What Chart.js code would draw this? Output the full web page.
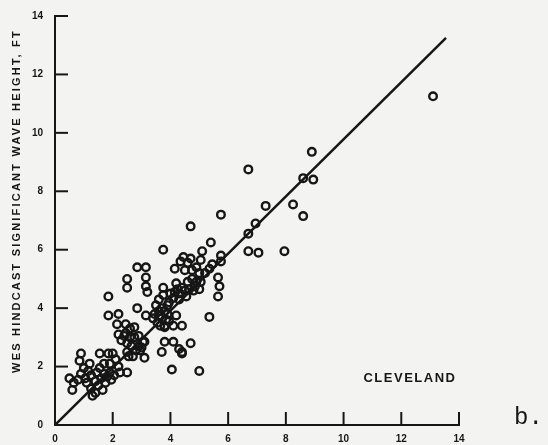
<!DOCTYPE html>
<html>
<head>
<meta charset="utf-8">
<script src="https://cdn.jsdelivr.net/npm/chart.js@4.4.1/dist/chart.umd.min.js"></script>
<style>
  html, body { margin: 0; padding: 0; background: #f3f3f1; }
  #wrap { width: 548px; height: 445px; position: relative; }
</style>
</head>
<body>
<div id="wrap"><canvas id="waveChart" width="548" height="445"></canvas></div>
<script>
const hindcastPoints = [
    // low cluster
    [0.5,1.6],[0.65,1.45],[0.6,1.2],[0.8,1.55],[0.85,2.2],[0.9,2.45],[0.9,1.75],[1.0,1.95],
    [1.05,1.6],[1.15,1.85],[1.2,2.1],[1.25,1.7],[1.25,1.25],[1.3,1.0],[1.4,1.1],[1.45,1.8],
    [1.5,1.35],[1.55,2.45],[1.6,1.6],[1.65,1.2],[1.7,1.75],[1.75,1.45],[1.85,2.45],[1.9,2.1],
    [1.9,1.8],[1.95,1.55],[2.05,1.7],[2.1,2.25],[2.2,2.0],[2.25,1.8],[2.5,1.8],[1.4,1.5],
    [1.8,1.65],[1.55,1.95],[1.7,2.1],[2.0,2.45],[1.1,1.45],
    // 2-3 ft band
    [1.85,4.4],[1.85,3.75],[2.2,3.8],[2.15,3.45],[2.2,3.1],[2.45,3.45],[2.45,3.15],[2.5,2.8],
    [2.5,2.5],[2.6,3.3],[2.6,3.0],[2.65,2.7],[2.7,2.35],[2.75,3.0],[2.75,3.35],[2.8,2.55],
    [2.9,2.7],[2.85,4.0],[2.95,2.55],[3.05,2.85],[3.1,2.3],[3.15,3.75],[3.0,2.65],[2.55,2.35],
    [2.4,3.05],[2.9,3.05],[2.3,2.9],
    [2.5,5.0],[2.5,4.7],[2.85,5.4],[3.15,5.4],[3.15,5.05],[3.15,4.75],[3.2,4.55],
    // 3.5-4.5 ft cluster
    [3.45,3.8],[3.5,4.1],[3.55,3.5],[3.6,3.75],[3.65,3.4],[3.7,4.0],[3.7,3.65],[3.75,4.45],
    [3.75,4.7],[3.8,3.35],[3.8,3.9],[3.85,3.6],[3.9,3.8],[3.95,4.2],[4.0,4.5],[4.1,4.35],
    [4.15,4.55],[4.2,3.75],[3.6,4.3],[3.4,3.65],[3.9,4.1],[3.6,3.9],[3.95,3.55],[4.3,4.3],
    [4.25,4.65],
    // below the line
    [3.8,3.4],[4.1,3.4],[4.4,3.4],[3.8,2.85],[4.1,2.85],[3.7,2.5],[4.3,2.6],[4.4,2.5],
    [4.7,2.8],[4.05,1.9],[5.0,1.85],[3.1,2.85],[4.4,2.45],[5.35,3.7],
    // 4.5-6 ft
    [4.15,5.35],[4.35,5.6],[4.45,5.75],[4.7,5.7],[4.75,5.3],[4.75,5.0],[4.6,4.9],[4.5,4.6],
    [4.4,4.7],[4.3,4.5],[4.65,4.65],[4.8,4.6],[4.9,4.9],[5.0,4.65],[5.05,5.65],[5.1,5.95],
    [5.2,5.2],[5.35,5.35],[5.4,6.25],[5.45,5.5],[5.65,5.05],[5.7,4.75],[5.65,4.4],[5.75,5.8],
    [5.75,5.6],[4.7,6.8],[3.75,6.0],[5.75,7.2],[4.9,5.4],[4.5,5.3],[4.2,4.85],[5.0,5.2],
    [4.55,4.4],[4.85,4.75],[5.05,4.9],[4.6,5.55],
    // upper range
    [6.7,8.75],[6.7,6.55],[6.95,6.9],[6.7,5.95],[7.05,5.9],[7.3,7.5],[7.95,5.95],[8.25,7.55],
    [8.6,7.15],[8.6,8.45],[8.95,8.4],[8.9,9.35],[13.1,11.25]
];

// line of perfect agreement as drawn in the figure
const agreementLine = [[0, 0], [13.55, 13.25]];

const axisTicks = [0, 2, 4, 6, 8, 10, 12, 14];
const yTitle = 'WES HINDCAST SIGNIFICANT WAVE HEIGHT, FT';
const stationName = 'CLEVELAND';
const panelLetter = 'b.';

const INK = '#161616';
const tickFont = { family: '"Liberation Sans", Arial, sans-serif', size: 10, weight: 'bold' };

// inward tick marks, rotated axis title and annotation text
const decorPlugin = {
    id: 'decor',
    afterDraw(chart) {
        const { ctx, scales: { x, y } } = chart;
        ctx.save();
        ctx.strokeStyle = INK;
        ctx.lineWidth = 2;
        axisTicks.forEach(v => {
            if (v === 0) return;
            const px = x.getPixelForValue(v);
            ctx.beginPath();
            ctx.moveTo(px, y.bottom);
            ctx.lineTo(px, y.bottom - 13);
            ctx.stroke();
            const py = y.getPixelForValue(v);
            ctx.beginPath();
            ctx.moveTo(x.left, py);
            ctx.lineTo(x.left + 13, py);
            ctx.stroke();
        });

        ctx.fillStyle = INK;
        // y axis title
        ctx.save();
        ctx.translate(17, 201);
        ctx.rotate(-Math.PI / 2);
        ctx.font = 'bold 11px "Liberation Sans", Arial, sans-serif';
        ctx.letterSpacing = '2.2px';
        ctx.textAlign = 'center';
        ctx.textBaseline = 'middle';
        ctx.fillText(yTitle, 0, 0);
        ctx.restore();

        // station name
        ctx.font = 'bold 13px "Liberation Sans", Arial, sans-serif';
        ctx.letterSpacing = '1.5px';
        ctx.textAlign = 'center';
        ctx.textBaseline = 'middle';
        ctx.fillText(stationName, x.getPixelForValue(12.3), y.getPixelForValue(1.6));

        // panel letter
        ctx.letterSpacing = '0px';
        ctx.font = '24px "Liberation Mono", "DejaVu Sans Mono", monospace';
        ctx.textAlign = 'left';
        ctx.fillText(panelLetter, 514, 418);
        ctx.restore();
    }
};

function initChart() {
    const ctx = document.getElementById('waveChart').getContext('2d');
    new Chart(ctx, {
        data: {
            datasets: [{
                type: 'scatter',
                data: hindcastPoints.map(p => ({ x: p[0], y: p[1] })),
                pointStyle: 'circle',
                pointRadius: 3.8,
                borderWidth: 2.4,
                borderColor: INK,
                backgroundColor: 'rgba(0,0,0,0)'
            }, {
                type: 'line',
                data: agreementLine.map(p => ({ x: p[0], y: p[1] })),
                borderColor: INK,
                borderWidth: 2.5,
                pointRadius: 0,
                fill: false
            }]
        },
        options: {
            responsive: false,
            animation: false,
            layout: { padding: { top: 16, right: 89, left: 0, bottom: 0 } },
            plugins: {
                legend: { display: false },
                tooltip: { enabled: false }
            },
            scales: {
                x: {
                    type: 'linear',
                    min: 0, max: 14,
                    afterFit: s => { s.height = 20; },
                    grid: { display: false },
                    border: { display: true, color: INK, width: 2 },
                    ticks: { stepSize: 2, color: INK, font: tickFont, padding: 0 }
                },
                y: {
                    type: 'linear',
                    min: 0, max: 14,
                    afterFit: s => { s.width = 55; },
                    grid: { display: false },
                    border: { display: true, color: INK, width: 2 },
                    ticks: { stepSize: 2, color: INK, font: tickFont, padding: 4 }
                }
            }
        },
        plugins: [decorPlugin]
    });
}

document.addEventListener('DOMContentLoaded', initChart);
</script>
</body>
</html>
